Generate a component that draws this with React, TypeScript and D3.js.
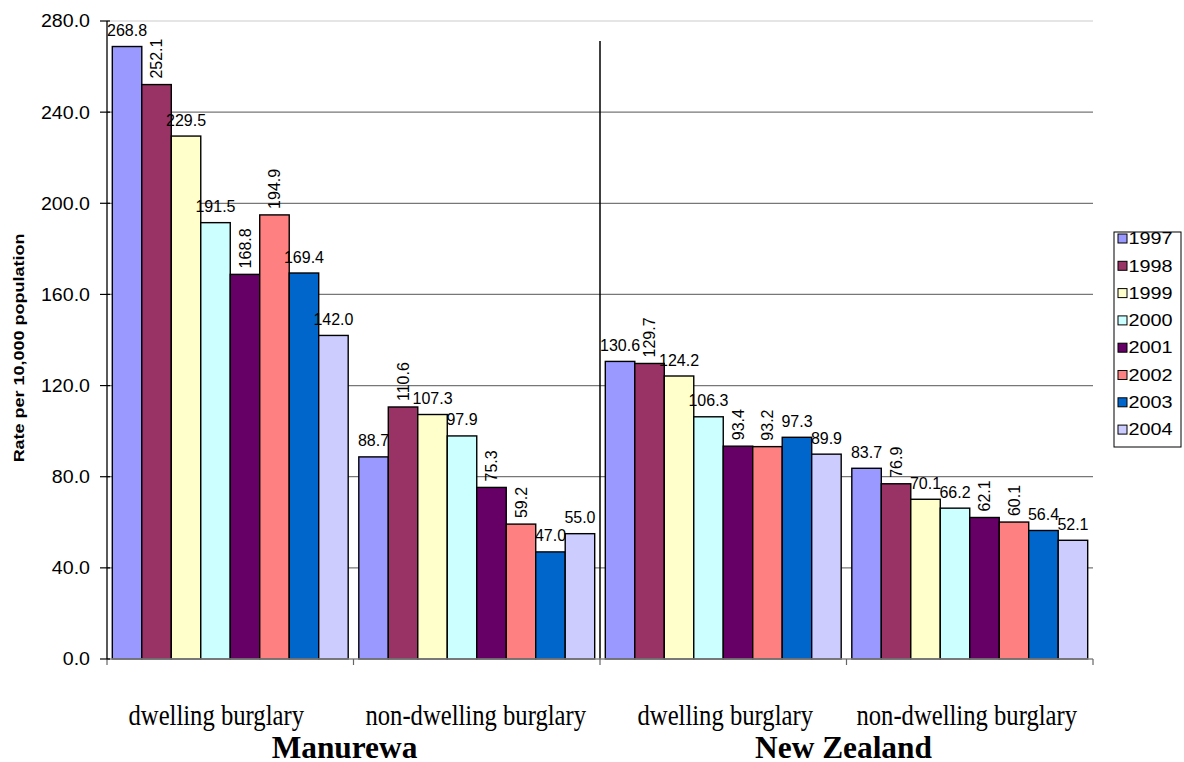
import React from "react";
import * as d3 from "d3";

const years = ["1997", "1998", "1999", "2000", "2001", "2002", "2003", "2004"];
const colors = ["#9999FF", "#993366", "#FFFFCC", "#CCFFFF", "#660066", "#FF8080", "#0066CC", "#CCCCFF"];
const groups = ["Manurewa", "New Zealand"];
const crimeTypes = ["dwelling burglary", "non-dwelling burglary"];
const manurewaDwelling = [268.8, 252.1, 229.5, 191.5, 168.8, 194.9, 169.4, 142.0];
const manurewaNonDwelling = [88.7, 110.6, 107.3, 97.9, 75.3, 59.2, 47.0, 55.0];
const nzDwelling = [130.6, 129.7, 124.2, 106.3, 93.4, 93.2, 97.3, 89.9];
const nzNonDwelling = [83.7, 76.9, 70.1, 66.2, 62.1, 60.1, 56.4, 52.1];
const yTicks = [0, 40, 80, 120, 160, 200, 240, 280];
// labels drawn vertically in the original (per category, by year index)
const verticalLabels = [[1, 4, 5], [1, 4, 5], [1, 4, 5], [1, 4, 5]];

const categories = [
  { key: "m-d", group: 0, type: 0, values: manurewaDwelling },
  { key: "m-n", group: 0, type: 1, values: manurewaNonDwelling },
  { key: "n-d", group: 1, type: 0, values: nzDwelling },
  { key: "n-n", group: 1, type: 1, values: nzNonDwelling },
];

const W = 1184, H = 762;
const left = 107, right = 1093, top = 21, bottom = 659;
const catLabelShift = [-14, -1, 2, -3];
const groupLabelShift = [-9, -3];

export default function App() {
  const x0 = d3.scaleBand<string>().domain(categories.map(c => c.key)).range([left, right]).padding(0);
  const x1 = d3.scaleBand<string>().domain(years).range([0, x0.bandwidth()]).paddingInner(0).paddingOuter(0.18);
  const y = d3.scaleLinear().domain([0, 280]).range([bottom, top]);
  const sans = "'Liberation Sans', Arial, sans-serif";
  const serif = "'Liberation Serif', 'Times New Roman', serif";

  return (
    <svg width={W} height={H} style={{ position: "absolute", left: 0, top: 0, background: "#fff" }}>
      {/* gridlines */}
      {yTicks.filter(t => t > 0).map(t => (
        <line key={t} x1={left} x2={right} y1={y(t)} y2={y(t)}
          stroke={t === 280 ? "#dcdcdc" : "#777"} strokeWidth={t === 280 ? 1.5 : 1.3} />
      ))}
      {/* separator */}
      <line x1={x0("n-d")!} x2={x0("n-d")!} y1={41} y2={bottom} stroke="#000" strokeWidth={1.5} />
      {/* bars */}
      {categories.map((c, ci) => (
        <g key={c.key}>
          {c.values.map((v, i) => {
            const bx = x0(c.key)! + x1(years[i])!;
            const bw = x1.bandwidth();
            return (
              <rect key={i} x={bx} y={y(v)} width={bw} height={bottom - y(v)}
                fill={colors[i]} stroke="#000" strokeWidth={1.4} />
            );
          })}
          {c.values.map((v, i) => {
            const cx = x0(c.key)! + x1(years[i])! + x1.bandwidth() / 2;
            const vert = verticalLabels[ci].includes(i);
            return vert ? (
              <text key={"l" + i} transform={`translate(${cx},${y(v) - 6}) rotate(-90)`} dy="0.36em"
                fontFamily={sans} fontSize={16} fill="#000" textAnchor="start">{v.toFixed(1)}</text>
            ) : (
              <text key={"l" + i} x={cx} y={y(v) - 10.5} fontFamily={sans} fontSize={16} fill="#000"
                textAnchor="middle">{v.toFixed(1)}</text>
            );
          })}
        </g>
      ))}
      {/* axes */}
      <line x1={left} x2={right} y1={bottom} y2={bottom} stroke="#888" strokeWidth={1.3} />
      {[left, ...categories.map(c => x0(c.key)! + x0.bandwidth())].map((xx, i) => (
        <line key={i} x1={xx} x2={xx} y1={bottom} y2={bottom + 6} stroke="#666" strokeWidth={1.2} />
      ))}
      <line x1={left} x2={left} y1={top} y2={bottom} stroke="#000" strokeWidth={1.3} />
      {yTicks.map(t => (
        <g key={t}>
          <line x1={left - 7} x2={left + 3} y1={y(t)} y2={y(t)} stroke="#000" strokeWidth={1.2} />
          <text transform={`translate(90,${y(t)}) scale(1.09,1)`} dy="0.36em" textAnchor="end"
            fontFamily={sans} fontSize={18} fill="#000">{t.toFixed(1)}</text>
        </g>
      ))}
      <text transform={`translate(23.5,${(top + bottom) / 2 + 8}) rotate(-90) scale(1.24,1)`} textAnchor="middle"
        fontFamily={sans} fontSize={14.5} fontWeight="bold" fill="#000">Rate per 10,000 population</text>
      {/* category labels */}
      {categories.map((c, ci) => (
        <text key={c.key}
          transform={`translate(${x0(c.key)! + x0.bandwidth() / 2 + catLabelShift[ci]},725) scale(0.85,1)`}
          textAnchor="middle" fontFamily={serif} fontSize={29} fill="#000">{crimeTypes[c.type]}</text>
      ))}
      {groups.map((g, gi) => (
        <text key={g}
          transform={`translate(${left + x0.bandwidth() * (gi * 2 + 1) + groupLabelShift[gi]},758) scale(0.98,1)`}
          textAnchor="middle" fontFamily={serif} fontSize={32} fontWeight="bold" fill="#000">{g}</text>
      ))}
      {/* legend */}
      <rect x={1114} y={232} width={67} height={215} fill="#fff" stroke="#000" strokeWidth={1} />
      {years.map((yr, i) => (
        <g key={yr} transform={`translate(1118,${238.5 + i * 27.3})`}>
          <rect x={0} y={-4.5} width={9} height={9} fill={colors[i]} stroke="#000" strokeWidth={1} />
          <text transform="translate(10.5,0) scale(1.24,1)" dy="0.36em" fontFamily={sans} fontSize={16}
            fill="#000">{yr}</text>
        </g>
      ))}
    </svg>
  );
}
